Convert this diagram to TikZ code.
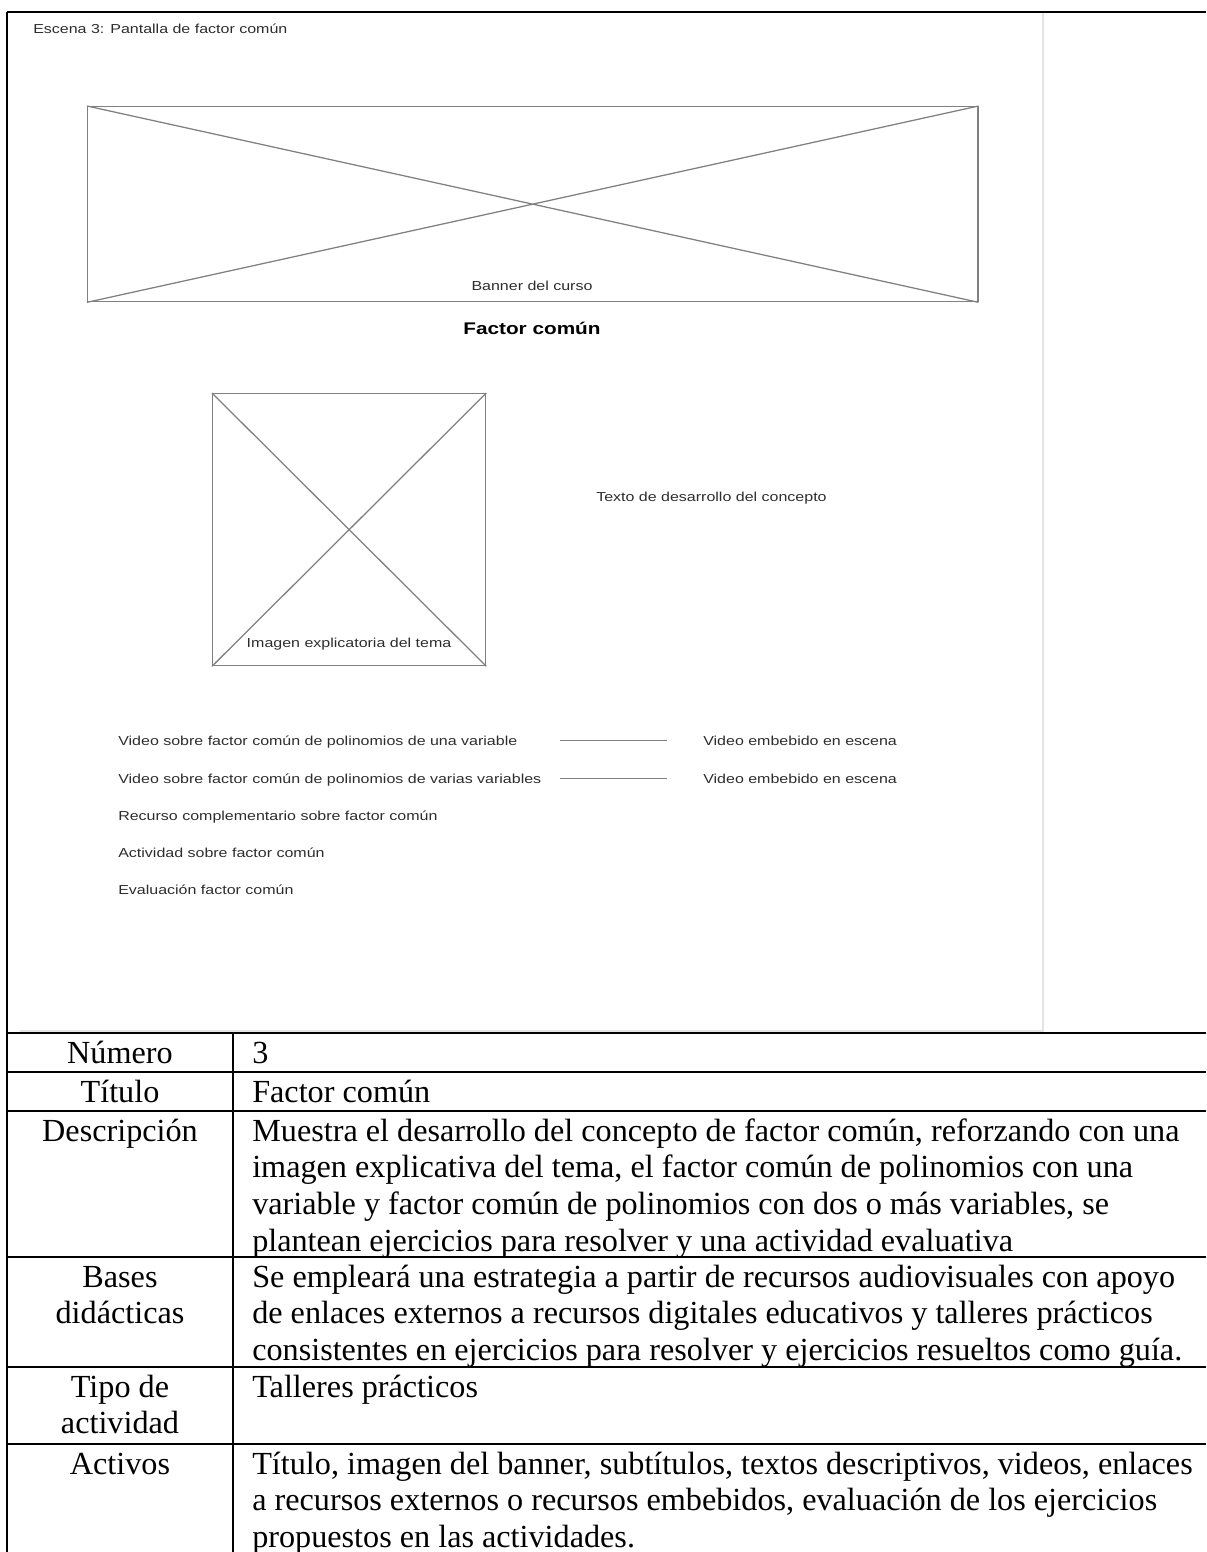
\documentclass[tikz,border=0pt]{standalone}
\usepackage{fontspec}
\setmainfont{Liberation Serif}
\newfontfamily\wirefont{Liberation Sans}[FakeStretch=1.23]
\usepackage{tikz}
\usetikzlibrary{positioning}
\definecolor{wire}{RGB}{128,128,128}
\definecolor{wtext}{RGB}{45,45,45}
\definecolor{edge}{RGB}{228,228,228}
\newcommand{\celltext}[1]{\parbox[t]{28cm}{\raggedright #1}}
\newcommand{\celllabel}[1]{\parbox[t]{5.65cm}{\centering #1}}

\begin{document}
\begin{tikzpicture}[x=0.025cm,y=-0.025cm]
\tikzset{wf/.style={draw=wire,line width=0.9pt,inner sep=0pt},
  sm/.style={font=\wirefont\fontsize{9.25}{11}\selectfont,text=wtext,inner sep=0pt},
  tl/.style={draw=black,line width=1.5pt},
  cell/.style={font=\fontsize{22.9}{26.1}\selectfont,inner sep=0pt}}
\useasboundingbox (0,0) rectangle (1206,1552);
% screen mock-up
\draw[draw=edge,line width=1.2pt] (1043,12) -- (1043,1031) -- (20,1031);
\node[sm,anchor=base west] (scene) at (33,33) {Escena 3: Pantalla de factor común};
\node[wf,anchor=north west,minimum width=22.25cm,minimum height=4.875cm] (banner) at (87,106) {};
\draw[wf] (banner.north west) -- (banner.south east) (banner.south west) -- (banner.north east);
\node[sm,anchor=base] (bannerlbl) at (532,290) {Banner del curso};
\node[sm,anchor=base,font=\wirefont\bfseries\fontsize{12}{14}\selectfont,text=black] (title) at (532,334) {Factor común};
\node[wf,anchor=north west,minimum width=6.825cm,minimum height=6.8cm] (pic) at (212,393) {};
\draw[wf] (pic.north west) -- (pic.south east) (pic.south west) -- (pic.north east);
\node[sm,anchor=base] (piclbl) at (349,647) {Imagen explicatoria del tema};
\node[sm,anchor=base west] (concept) at (596,501) {Texto de desarrollo del concepto};
\node[sm,anchor=base west] (v1) at (118,745) {Video sobre factor común de polinomios de una variable};
\node[sm,anchor=base west] (v2) at (118,783) {Video sobre factor común de polinomios de varias variables};
\node[sm,anchor=base west] (v3) at (118,820) {Recurso complementario sobre factor común};
\node[sm,anchor=base west] (v4) at (118,857) {Actividad sobre factor común};
\node[sm,anchor=base west] (v5) at (118,894) {Evaluación factor común};
\node[sm,anchor=base west] (e1) at (703,745) {Video embebido en escena};
\node[sm,anchor=base west] (e2) at (703,783) {Video embebido en escena};
\coordinate (c1) at (560,740);\coordinate (c2) at (560,778);
\draw[wf,shorten >=0.9cm] (c1 |- e1.west) -- (e1.west);
\draw[wf,shorten >=0.9cm] (c2 |- e2.west) -- (e2.west);
% table
\draw[draw=black,line width=0.8pt] (7,12) -- (1043,12);
\draw[tl] (1043,12) -- (1206,12);
\foreach \yy in {1033,1072,1111,1257,1367,1444} \draw[tl] (7,\yy) -- (1206,\yy);
\draw[tl] (7,12) -- (7,1552);
\draw[tl] (233,1033) -- (233,1552);
\node[cell,anchor=base] (hNum) at (120,1063) {\celllabel{Número}};
\node[cell,anchor=base west] (tNum) at (252,1063) {\celltext{3}};
\node[cell,anchor=base] (hTit) at (120,1102) {\celllabel{Título}};
\node[cell,anchor=base west] (tTit) at (252,1102) {\celltext{Factor común}};
\node[cell,anchor=base] (hDesc) at (120,1141) {\celllabel{Descripción}};
\node[cell,anchor=base west] (tDesc) at (252,1141) {\celltext{Muestra el desarrollo del concepto de factor común, reforzando con una\\imagen explicativa del tema, el factor común de polinomios con una\\variable y factor común de polinomios con dos o más variables, se\\plantean ejercicios para resolver y una actividad evaluativa}};
\node[cell,anchor=base] (hBase) at (120,1287) {\celllabel{Bases\\didácticas}};
\node[cell,anchor=base west] (tBase) at (252,1287) {\celltext{Se empleará una estrategia a partir de recursos audiovisuales con apoyo\\de enlaces externos a recursos digitales educativos y talleres prácticos\\consistentes en ejercicios para resolver y ejercicios resueltos como guía.}};
\node[cell,anchor=base] (hTipo) at (120,1397) {\celllabel{Tipo de\\actividad}};
\node[cell,anchor=base west] (tTipo) at (252,1397) {\celltext{Talleres prácticos}};
\node[cell,anchor=base] (hAct) at (120,1474) {\celllabel{Activos}};
\node[cell,anchor=base west] (tAct) at (252,1474) {\celltext{Título, imagen del banner, subtítulos, textos descriptivos, videos, enlaces\\a recursos externos o recursos embebidos, evaluación de los ejercicios\\propuestos en las actividades.}};
\end{tikzpicture}
\end{document}
